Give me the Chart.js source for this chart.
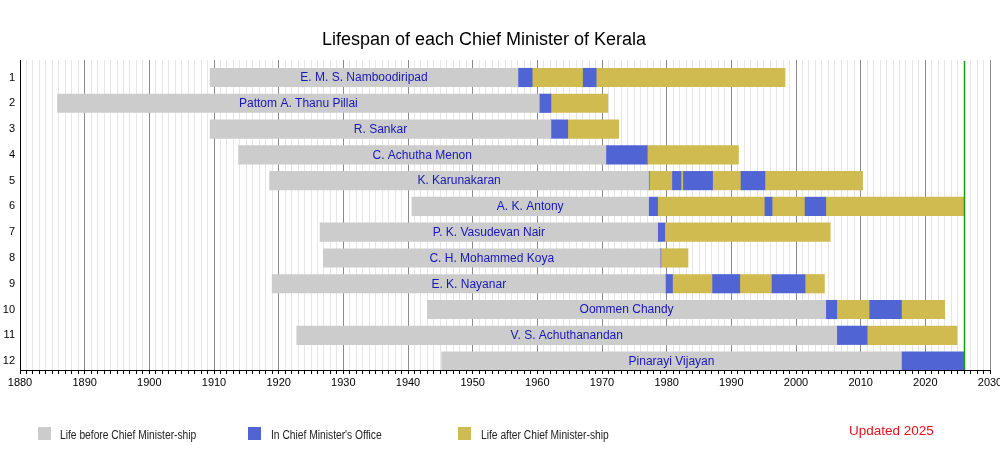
<!DOCTYPE html>
<html>
<head>
<meta charset="utf-8">
<title>Lifespan of each Chief Minister of Kerala</title>
<script src="https://cdn.jsdelivr.net/npm/chart.js@4"></script>
<style>
  html, body { margin: 0; padding: 0; background: #fff; }
  #wrap { position: relative; width: 1000px; height: 450px; }
  #chart { position: absolute; left: 0; top: 0; }
  .key { position: absolute; top: 427px; width: 13px; height: 13px; }
  .key-text { position: absolute; top: 427px; font: 12px "Liberation Sans", Arial, sans-serif; color: #222; line-height: 16px;
              white-space: nowrap; transform: scaleX(0.855); transform-origin: 0 50%; }
  #updated { position: absolute; left: 849px; top: 423px; font: 13.5px "Liberation Sans", Arial, sans-serif; color: #e8101a; }
</style>
</head>
<body>
<div id="wrap">
  <canvas id="chart" width="1000" height="450"></canvas>
  <div class="key" style="left:38px; background:#cccccc;"></div>
  <div class="key-text" style="left:60px;">Life before Chief Minister-ship</div>
  <div class="key" style="left:248px; background:#5064d4;"></div>
  <div class="key-text" style="left:271px;">In Chief Minister's Office</div>
  <div class="key" style="left:458px; background:#cfbb50;"></div>
  <div class="key-text" style="left:481px;">Life after Chief Minister-ship</div>
  <div id="updated">Updated 2025</div>
</div>
<script>
// Chief Ministers in order (row 1 at the top)
const ministers = [
    'E. M. S. Namboodiripad', 'Pattom A. Thanu Pillai', 'R. Sankar', 'C. Achutha Menon',
    'K. Karunakaran', 'A. K. Antony', 'P. K. Vasudevan Nair', 'C. H. Mohammed Koya',
    'E. K. Nayanar', 'Oommen Chandy', 'V. S. Achuthanandan', 'Pinarayi Vijayan'
];
const born = [1909.4, 1885.8, 1909.4, 1913.8, 1918.6, 1940.6, 1926.4, 1926.9, 1919.0, 1943.0, 1922.8, 1945.2];
const died = [1998.3, 1970.9, 1972.6, 1991.1, 2010.3, null, 2005.3, 1983.3, 2004.4, 2023.0, 2024.9, null];
const terms = [
    [[1957.0, 1959.2], [1967.1, 1969.1]],
    [[1960.3, 1962.1]],
    [[1962.1, 1964.7]],
    [[1970.6, 1977.0]],
    [[1977.2, 1977.3], [1980.9, 1982.2], [1982.6, 1987.1], [1991.5, 1995.2]],
    [[1977.2, 1978.6], [1995.2, 1996.3], [2001.4, 2004.6]],
    [[1978.6, 1979.7]],
    [[1979.0, 1979.1]],
    [[1979.8, 1980.9], [1987.1, 1991.3], [1996.3, 2001.4]],
    [[2004.6, 2006.3], [2011.4, 2016.3]],
    [[2006.3, 2011.0]],
    [[2016.3, 2026.0]]
];
const today = 2026.0; // green "now" line, living CMs run up to here
const rows = ministers.map((m, i) => i + 1);

const colBefore = '#cccccc';
const colOffice = '#5064d4';
const colAfter = '#cfbb50';

// split every life into before / in office / after pieces
const beforeData = [];
const officeData = [];
const afterData = [];
ministers.forEach(function(name, i) {
    const t = terms[i];
    const end = died[i] === null ? today : died[i];
    beforeData.push({ x: [born[i], t[0][0]], y: rows[i] });
    t.forEach(function(term, k) {
        officeData.push({ x: [term[0], term[1]], y: rows[i] });
        const next = k + 1 < t.length ? t[k + 1][0] : end;
        if (next > term[1]) {
            afterData.push({ x: [term[1], next], y: rows[i] });
        }
    });
});

const decorations = {
    id: 'decorations',
    afterDatasetsDraw(chart) {
        const ctx = chart.ctx;
        const xs = chart.scales.x;
        const ys = chart.scales.y;
        const area = chart.chartArea;

        // today line
        ctx.save();
        ctx.strokeStyle = '#12a012';
        ctx.lineWidth = 1.5;
        ctx.beginPath();
        const gx = Math.round(xs.getPixelForValue(today)) + 0.5;
        ctx.moveTo(gx, area.top + 1);
        ctx.lineTo(gx, area.bottom);
        ctx.stroke();

        // names in the grey part of each bar
        ctx.fillStyle = '#1818b8';
        ctx.font = '12px "Liberation Sans", Arial, sans-serif';
        ctx.textAlign = 'center';
        ctx.textBaseline = 'middle';
        beforeData.forEach(function(d, i) {
            const cx = (xs.getPixelForValue(d.x[0]) + xs.getPixelForValue(d.x[1])) / 2;
            ctx.fillText(ministers[i], cx, ys.getPixelForValue(d.y) + 0.5);
        });

        // title
        ctx.fillStyle = '#000';
        ctx.font = '18px "Liberation Sans", Arial, sans-serif';
        ctx.fillText('Lifespan of each Chief Minister of Kerala', 484, 40);
        ctx.restore();
    }
};

new Chart(document.getElementById('chart'), {
    type: 'bar',
    data: {
        datasets: [
            { label: 'Life before Chief Minister-ship', data: beforeData, backgroundColor: colBefore },
            { label: "In Chief Minister's Office", data: officeData, backgroundColor: colOffice },
            { label: 'Life after Chief Minister-ship', data: afterData, backgroundColor: colAfter }
        ]
    },
    options: {
        indexAxis: 'y',
        responsive: false,
        animation: false,
        grouped: false,
        barThickness: 18.5,
        borderWidth: 0,
        layout: { padding: { left: 0, right: 10, top: 60, bottom: 50 } },
        plugins: {
            legend: { display: false },
            title: { display: false },
            tooltip: { enabled: false }
        },
        scales: {
            x: {
                type: 'linear',
                position: 'bottom',
                min: 1880,
                max: 2030,
                ticks: {
                    stepSize: 1,
                    autoSkip: false,
                    maxRotation: 0,
                    padding: 2,
                    color: '#000',
                    font: { family: '"Liberation Sans", Arial, sans-serif', size: 11 },
                    callback: function(v) { return v % 10 === 0 ? String(v) : ''; }
                },
                grid: {
                    color: function(c) { return c.tick && c.tick.value % 10 === 0 ? '#8a8a8a' : '#e6e6e6'; },
                    tickColor: '#000',
                    tickLength: 4,
                    lineWidth: 1
                },
                border: { color: '#000', width: 1 },
                afterFit: function(scale) {
                    scale.height = 30;
                    scale.paddingLeft = 0;
                    scale.paddingRight = 0;
                }
            },
            y: {
                type: 'linear',
                reverse: true,
                offset: false,
                min: 0.321,
                max: 12.346,
                ticks: {
                    stepSize: 1,
                    includeBounds: false,
                    padding: 5,
                    color: '#000',
                    font: { family: '"Liberation Sans", Arial, sans-serif', size: 11 },
                    callback: function(v) { return Number.isInteger(v) ? String(v) : ''; }
                },
                grid: { display: false, drawTicks: false },
                border: { color: '#000', width: 1 },
                afterFit: function(scale) {
                    scale.width = 20;
                    scale.paddingTop = 0;
                    scale.paddingBottom = 0;
                }
            }
        }
    },
    plugins: [decorations]
});
</script>
</body>
</html>
